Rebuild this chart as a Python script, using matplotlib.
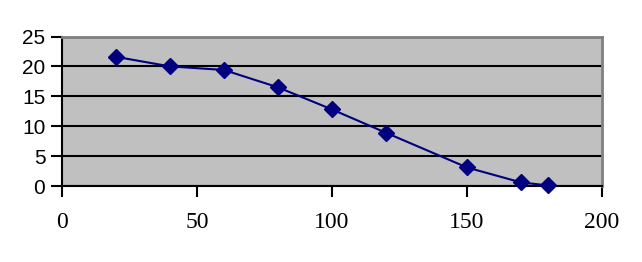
import numpy as np
import matplotlib.pyplot as plt

# values
x_vals = [20, 40, 60, 80, 100, 120, 150, 170, 180]
y_vals = [21.6, 20.0, 19.4, 16.5, 12.8, 8.9, 3.1, 0.6, 0.1]
x_ticks = [0, 50, 100, 150, 200]
y_ticks = [0, 5, 10, 15, 20, 25]

fig = plt.figure(figsize=(6.42, 2.62), dpi=100)
ax = fig.add_axes([62 / 642, 1 - 186 / 262, 540 / 642, 149.5 / 262])
ax.set_facecolor('#C0C0C0')

ax.plot(x_vals, y_vals, color='#000080', linewidth=1.5, marker='D',
        markersize=8, markerfacecolor='#000080', markeredgecolor='#000080',
        zorder=3, clip_on=False)

ax.set_xlim(0, 200)
ax.set_ylim(0, 25)
ax.set_xticks(x_ticks)
ax.set_yticks(y_ticks)
ax.yaxis.grid(True, color='black', linewidth=1.5)
ax.set_axisbelow(True)

for s in ['top', 'right']:
    ax.spines[s].set_color('#808080')
    ax.spines[s].set_linewidth(2)
for s in ['left', 'bottom']:
    ax.spines[s].set_color('black')
    ax.spines[s].set_linewidth(1.5)

ax.tick_params(axis='both', direction='out', length=8, width=1.5, color='black')
ax.tick_params(axis='x', pad=11)
ax.tick_params(axis='y', pad=4)
for lbl in ax.get_yticklabels():
    lbl.set_fontfamily('Liberation Sans')
    lbl.set_fontsize(15)
for lbl in ax.get_xticklabels():
    lbl.set_fontfamily('Liberation Serif')
    lbl.set_fontsize(17)

fig.savefig('out.png', dpi=100)
